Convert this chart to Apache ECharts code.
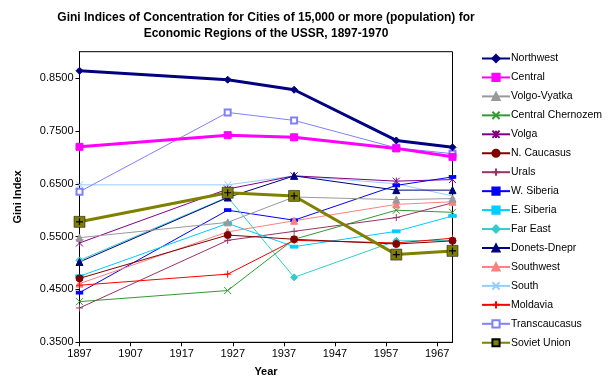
<!DOCTYPE html>
<html><head><meta charset="utf-8">
<script src="https://cdn.jsdelivr.net/npm/echarts@6/dist/echarts.min.js"></script>
<style>html,body{margin:0;padding:0;background:#fff}#c{width:615px;height:388px}</style>
</head><body><div id="c"></div>
<script>
const years = [1897, 1926, 1939, 1959, 1970];
const seriesNames = ["Northwest","Central","Volgo-Vyatka","Central Chernozem","Volga","N. Caucasus","Urals","W. Siberia","E. Siberia","Far East","Donets-Dnepr","Southwest","South","Moldavia","Transcaucasus","Soviet Union"];
const northwest = [0.864, 0.847, 0.828, 0.732, 0.719];
const central = [0.720, 0.742, 0.738, 0.717, 0.701];
const volgoVyatka = [0.548, 0.577, 0.625, 0.620, 0.622];
const centralChernozem = [0.427, 0.448, 0.545, 0.600, 0.596];
const volga = [0.538, 0.640, 0.665, 0.655, 0.658];
const nCaucasus = [0.471, 0.553, 0.545, 0.536, 0.542];
const urals = [0.415, 0.543, 0.560, 0.586, 0.614];
const wSiberia = [0.444, 0.600, 0.581, 0.647, 0.663];
const eSiberia = [0.475, 0.575, 0.531, 0.560, 0.589];
const farEast = [0.505, 0.625, 0.473, 0.542, 0.543];
const donetsDnepr = [0.502, 0.624, 0.665, 0.638, 0.638];
const southwest = [0.461, 0.559, 0.580, 0.611, 0.616];
const south = [0.648, 0.648, 0.665, 0.650, 0.627];
const moldavia = [0.458, 0.479, 0.543, 0.538, 0.547];
const transcaucasus = [0.635, 0.785, 0.770, 0.718, 0.707];
const sovietUnion = [0.578, 0.633, 0.627, 0.516, 0.523];
const valuesList = [northwest, central, volgoVyatka, centralChernozem, volga, nCaucasus, urals, wSiberia, eSiberia, farEast, donetsDnepr, southwest, south, moldavia, transcaucasus, sovietUnion];

const X = 'path://M0,0L10,10M10,0L0,10';
const PLUS = 'path://M5,0L5,10M0,5L10,5';
const STAR = 'path://M0,0L10,10M10,0L0,10M5,0L5,10';
const styles = [
  {c:'#000080', w:3, s:'diamond', z:9},
  {c:'#FF00FF', w:3, s:'rect', z:8},
  {c:'#999999', w:1, s:'triangle', z:7},
  {c:'#339933', w:1, s:X, z:6},
  {c:'#800080', w:1, s:STAR, z:6},
  {c:'#800000', w:1, s:'circle', z:7},
  {c:'#993366', w:1, s:PLUS, z:6},
  {c:'#0000FF', w:1, s:'rect', z:6, sz:[6,3]},
  {c:'#00CCFF', w:1, s:'rect', z:6, sz:[7,3]},
  {c:'#33CCCC', w:1, s:'diamond', z:6},
  {c:'#000080', w:1, s:'triangle', z:6},
  {c:'#FF8080', w:1, s:'triangle', z:6},
  {c:'#99CCFF', w:1, s:X, z:5},
  {c:'#FF0000', w:1, s:PLUS, z:6},
  {c:'#8080FF', w:1, s:'emptyRect', z:5, sz:6},
  {c:'#808000', w:3, s:'rect', z:10, sz:11}
];
const series = seriesNames.map((n,i)=>{
  const st = styles[i];
  return {
    name:n, type:'line', z: st.z,
    data: years.map((y,j)=>[y, valuesList[i][j]]),
    symbol: st.s, symbolSize: st.sz || 7, showSymbol:true,
    lineStyle:{color:st.c, width:st.w},
    itemStyle:{color: st.c, borderColor: i===15 ? '#000' : st.c, borderWidth: i===15 ? 0.5 : 1},
    emphasis:{disabled:true}, animation:false
  };
});
series.push({
  name:'_su_plus', type:'line', z:11, data: years.map((y,j)=>[y, sovietUnion[j]]),
  symbol: PLUS, symbolSize: 7, lineStyle:{width:0, opacity:0},
  itemStyle:{color:'#000', borderColor:'#000', borderWidth:1.2}, emphasis:{disabled:true}, animation:false
});
const chart = echarts.init(document.getElementById('c'));
chart.setOption({
  animation:false,
  backgroundColor:'#fff',
  title:{text:'Gini Indices of Concentration for Cities of 15,000 or more (population) for\nEconomic Regions of the USSR, 1897-1970', left:261, textAlign:'center', top:5,
    textStyle:{fontFamily:'Liberation Sans, Arial', fontSize:12, fontWeight:'bold', color:'#000', lineHeight:16}},
  grid:{left:79.5, right:162.5, top:51.7, bottom:45.7, show:true, borderColor:'#000', borderWidth:1},
  legend:{data:seriesNames, orient:'vertical', left:476, top:48, itemWidth:28, itemHeight:9, itemGap:7.95,
    textStyle:{fontFamily:'Liberation Sans, Arial', fontSize:10.5, color:'#000', padding:[0,0,0,-4]}},
  xAxis:{type:'value', min:1897, max:1970, interval:10, name:'Year', nameLocation:'middle', nameGap:24,
    nameTextStyle:{fontFamily:'Liberation Sans, Arial', fontSize:11, fontWeight:'bold', color:'#000'},
    axisLine:{lineStyle:{color:'#000'}}, axisTick:{length:4, lineStyle:{color:'#000'}},
    axisLabel:{showMaxLabel:false, formatter:v=>String(v), fontFamily:'Liberation Sans, Arial', fontSize:11, color:'#000', margin:6},
    splitLine:{show:false}},
  yAxis:{type:'value', min:0.35, max:0.9, interval:0.1, name:'Gini Index', nameLocation:'middle', nameGap:56, nameRotate:90,
    nameTextStyle:{fontFamily:'Liberation Sans, Arial', fontSize:11, fontWeight:'bold', color:'#000'},
    axisLine:{show:true, lineStyle:{color:'#000'}}, axisTick:{show:true, length:4, lineStyle:{color:'#000'}},
    axisLabel:{showMaxLabel:false, formatter:v=>v.toFixed(4), fontFamily:'Liberation Sans, Arial', fontSize:11, color:'#000', margin:6},
    splitLine:{show:false}},
  series: series
});
</script></body></html>
